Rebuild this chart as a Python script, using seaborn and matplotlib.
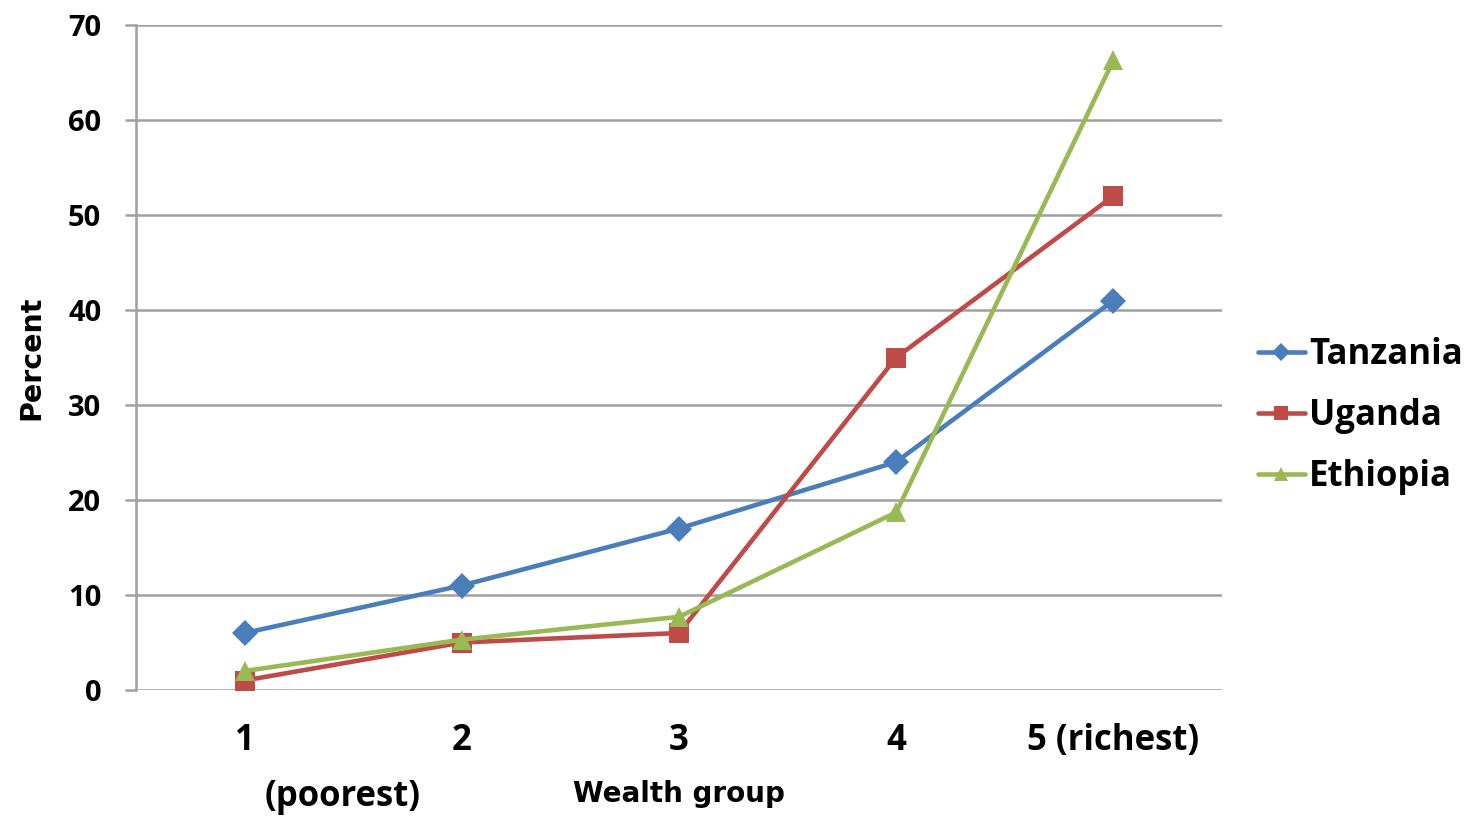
import matplotlib
matplotlib.use("Agg")
import matplotlib.pyplot as plt
import matplotlib.transforms as mtransforms
import seaborn as sns
import pandas as pd

# Share of households per wealth quintile, by country
wealth_groups = ["1", "2", "3", "4", "5 (richest)"]
tanzania = [6, 11, 17, 24, 41]
uganda = [1, 5, 6, 35, 52]
ethiopia = [2, 5.3, 7.7, 18.7, 66.3]
countries = ["Tanzania", "Uganda", "Ethiopia"]
y_ticks = [0, 10, 20, 30, 40, 50, 60, 70]

records = []
for name, vals in zip(countries, [tanzania, uganda, ethiopia]):
    for g, v in zip(wealth_groups, vals):
        records.append({"group": g, "percent": v, "country": name})
df = pd.DataFrame(records)

sns.set_theme(style="white")
plt.rcParams["font.family"] = ["Open Sans", "DejaVu Sans"]
plt.rcParams["font.weight"] = "bold"
for key in ["text.color", "axes.labelcolor", "xtick.labelcolor", "ytick.labelcolor"]:
    plt.rcParams[key] = "black"

palette = {"Tanzania": "#4A7EBB", "Uganda": "#BE4B48", "Ethiopia": "#98B954"}
markers = {"Tanzania": "D", "Uganda": "s", "Ethiopia": "^"}
msizes = {"Tanzania": 13, "Uganda": 14, "Ethiopia": 15}
legend_msizes = {"Tanzania": 9, "Uganda": 10.5, "Ethiopia": 10}

fig = plt.figure(figsize=(14.7, 8.18), dpi=100)
ax = fig.add_axes([136 / 1470, 1 - 690 / 818, (1222 - 136) / 1470, (690 - 25) / 818])

sns.lineplot(data=df, x="group", y="percent", hue="country", style="country",
             palette=palette, markers=markers, dashes=False, linewidth=3.3,
             markersize=13, markeredgewidth=0, sort=False, ax=ax, legend=True)

for line, name in zip(ax.get_lines(), countries):
    line.set_markersize(msizes[name])

ax.set_xlim(-0.5, len(wealth_groups) - 0.5)
ax.set_ylim(0, 70)
ax.set_yticks(y_ticks)
ax.set_xticks(range(len(wealth_groups)))
ax.set_xticklabels(wealth_groups, fontsize=25, fontweight="bold")
ax.set_yticklabels([str(t) for t in y_ticks], fontsize=21, fontweight="bold")

ax.grid(axis="y", color="#A0A0A0", linewidth=1.8)
ax.set_axisbelow(True)
for side in ["top", "right", "bottom"]:
    ax.spines[side].set_visible(False)
ax.spines["left"].set_color("#A0A0A0")
ax.spines["left"].set_linewidth(1.8)
ax.tick_params(axis="y", which="both", left=True, length=8, width=1.8,
               color="#A0A0A0", pad=17)
ax.tick_params(axis="x", length=0, pad=24)

heavy = {"family": ["DejaVu Sans"], "weight": "bold", "size": 20.5}
ax.set_ylabel("Percent", fontdict=heavy)
ax.yaxis.set_label_coords(-91 / 1086, 0.5)
ax.set_xlabel("Wealth group", fontdict={**heavy, "size": 20})
ax.xaxis.set_label_coords(0.5, -0.157)
ax.xaxis.label.set_verticalalignment("center")

# Second line of the first category label
trans = mtransforms.blended_transform_factory(ax.transData, ax.transAxes)
ax.text(0.45, -0.161, "(poorest)", transform=trans, ha="center", va="center",
        fontsize=25, fontweight="bold")

handles, labels = ax.get_legend_handles_labels()
for h, name in zip(handles, labels):
    h.set_markersize(legend_msizes[name])
    h.set_linewidth(3.3)
ax.legend(handles, labels, loc="center left", bbox_to_anchor=(1.033, 0.412),
          frameon=False, handlelength=1.35, handletextpad=0.12,
          labelspacing=0.71, borderaxespad=0, borderpad=0,
          prop={"weight": "bold", "size": 25})

fig.savefig("out.png", dpi=100)
